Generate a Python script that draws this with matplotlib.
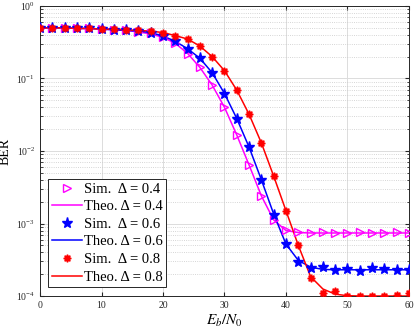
import matplotlib.pyplot as plt
import numpy as np
import matplotlib as mpl

mpl.rcParams['font.family'] = ['Liberation Serif', 'DejaVu Serif']
mpl.rcParams['mathtext.fontset'] = 'stix'

ebn0 = np.arange(0, 61, 2)

sim_04 = [0.49, 0.49, 0.49, 0.49, 0.49, 0.48, 0.47, 0.46, 0.44, 0.42, 0.37, 0.305, 0.22, 0.142, 0.081, 0.04,
          0.0164, 0.0065, 0.0024, 0.00112, 8.1e-4, 7.6e-4, 7.5e-4, 7.6e-4, 7.5e-4, 7.5e-4, 7.6e-4, 7.5e-4,
          7.5e-4, 7.6e-4, 7.5e-4]
theo_04 = [0.5, 0.5, 0.5, 0.49, 0.49, 0.48, 0.47, 0.46, 0.44, 0.41, 0.37, 0.305, 0.222, 0.142, 0.081, 0.04,
           0.0166, 0.0064, 0.0024, 0.00112, 8.0e-4, 7.5e-4, 7.4e-4, 7.4e-4, 7.4e-4, 7.4e-4, 7.4e-4, 7.4e-4,
           7.4e-4, 7.4e-4, 7.4e-4]
sim_06 = [0.49, 0.49, 0.49, 0.49, 0.49, 0.48, 0.47, 0.46, 0.45, 0.43, 0.385, 0.325, 0.257, 0.19, 0.12, 0.062,
          0.028, 0.0113, 0.0040, 0.00133, 5.2e-4, 2.9e-4, 2.43e-4, 2.5e-4, 2.25e-4, 2.35e-4, 2.2e-4, 2.4e-4,
          2.35e-4, 2.3e-4, 2.28e-4]
theo_06 = [0.5, 0.5, 0.5, 0.49, 0.49, 0.48, 0.47, 0.46, 0.45, 0.43, 0.385, 0.325, 0.257, 0.19, 0.12, 0.062,
           0.028, 0.0113, 0.0040, 0.00135, 5.2e-4, 3.1e-4, 2.5e-4, 2.33e-4, 2.3e-4, 2.3e-4, 2.3e-4, 2.3e-4,
           2.3e-4, 2.3e-4, 2.3e-4]
sim_08 = [0.49, 0.49, 0.49, 0.49, 0.49, 0.48, 0.48, 0.47, 0.46, 0.45, 0.43, 0.39, 0.35, 0.28, 0.20, 0.128,
          0.069, 0.032, 0.0129, 0.0045, 0.0015, 5.0e-4, 1.8e-4, 1.1e-4, 1.18e-4, 1.0e-4, 1.0e-4, 1.0e-4,
          1.0e-4, 1.04e-4, 1.1e-4]
theo_08 = [0.5, 0.5, 0.5, 0.49, 0.49, 0.48, 0.48, 0.47, 0.46, 0.45, 0.43, 0.39, 0.35, 0.28, 0.20, 0.128,
           0.069, 0.032, 0.0129, 0.0045, 0.0015, 5.0e-4, 1.85e-4, 1.25e-4, 1.06e-4, 1.01e-4, 1.0e-4, 1.0e-4,
           1.0e-4, 1.0e-4, 1.0e-4]

deltas = ['0.4', '0.6', '0.8']
sims = [sim_04, sim_06, sim_08]
theos = [theo_04, theo_06, theo_08]
colors = ['#ff00ff', '#0000ff', '#ff0000']
markers = ['>', '*', (8, 1, 0)]
msizes = [6, 8, 5.5]
mfaces = ['none', '#0000ff', '#ff0000']

fig = plt.figure(figsize=(4.15, 3.32), dpi=100)
ax = fig.add_axes([0.0964, 0.1084, 0.8891, 0.8736])

for i, d in enumerate(deltas):
    ax.plot(ebn0, sims[i], linestyle='none', marker=markers[i], markersize=msizes[i],
            markerfacecolor=mfaces[i], markeredgecolor=colors[i], markeredgewidth=1.0,
            label='Sim.  \u0394 = ' + d, zorder=3)
    ax.plot(ebn0, theos[i], color=colors[i], linewidth=1.1, label='Theo. \u0394 = ' + d, zorder=2)

ax.set_yscale('log')
ax.set_xlim(0, 60)
ax.set_ylim(1e-4, 1)
ax.set_xticks(np.arange(0, 61, 10))
ax.set_yticks([1e-4, 1e-3, 1e-2, 1e-1, 1])

ax.grid(True, which='major', color='#dcdcdc', linewidth=0.7, linestyle='-')
ax.grid(True, which='minor', axis='y', color='#c8c8c8', linewidth=0.6, linestyle=':')
ax.set_axisbelow(True)

ax.tick_params(which='both', direction='in', top=True, right=True, colors='#262626', labelsize=7)
ax.tick_params(which='major', length=3)
ax.tick_params(which='minor', length=1.8)
for s in ax.spines.values():
    s.set_color('#262626')
    s.set_linewidth(0.7)

ax.set_xlabel('$E_b/N_0$', fontsize=11, labelpad=2)
ax.set_ylabel('BER', fontsize=10, labelpad=3)

leg = ax.legend(loc='lower left', bbox_to_anchor=(0.0217, 0.03), borderaxespad=0, fontsize=10.5,
                fancybox=False, framealpha=1, edgecolor='#262626', handlelength=2.05,
                handletextpad=0.15, labelspacing=0.3, borderpad=0.25)
leg.get_frame().set_linewidth(0.7)

fig.savefig('out.png', dpi=100)
